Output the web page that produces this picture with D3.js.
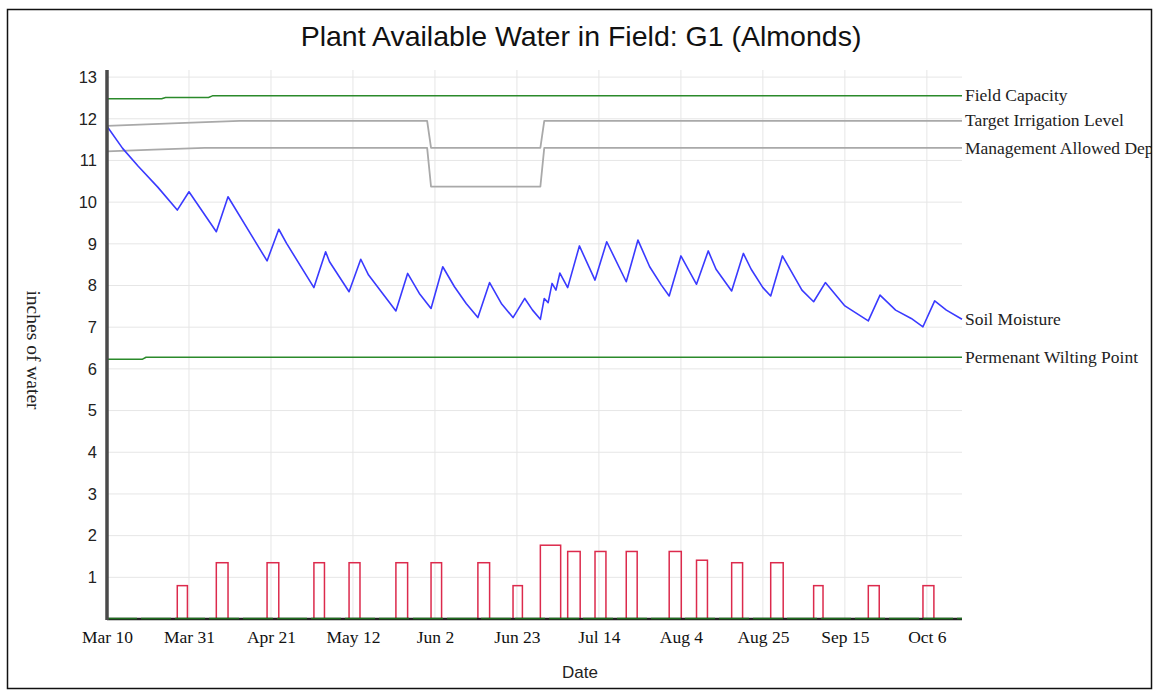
<!DOCTYPE html>
<html>
<head>
<meta charset="utf-8">
<script src="https://cdn.jsdelivr.net/npm/d3@7"></script>
<style>
  body { margin: 0; background: #fff; }
</style>
</head>
<body>
<script>
// year is arbitrary, only month/day are shown
let yr = "2015-";

let tickDates = ["03-10", "03-31", "04-21", "05-12", "06-02", "06-23", "07-14", "08-04", "08-25", "09-15", "10-06"];
let yTicks = [1, 2, 3, 4, 5, 6, 7, 8, 9, 10, 11, 12, 13];
let startDate = "03-10";
let endDate = "10-15";

//soil moisture readings (inches)
let soilDates = ["03-10", "03-14", "03-18", "03-23", "03-28", "03-31", "04-07", "04-10", "04-20", "04-23",
	"04-25", "05-02", "05-05", "05-06", "05-11", "05-14", "05-16", "05-23", "05-26", "05-29",
	"06-01", "06-04", "06-07", "06-10", "06-13", "06-16", "06-19", "06-22", "06-25", "06-27",
	"06-29", "06-30", "07-01", "07-02", "07-03", "07-04", "07-06", "07-09", "07-13", "07-16",
	"07-21", "07-24", "07-27", "07-30", "08-01", "08-04", "08-08", "08-11", "08-13", "08-17",
	"08-20", "08-22", "08-25", "08-27", "08-30", "09-04", "09-07", "09-10", "09-15", "09-18",
	"09-21", "09-24", "09-28", "10-02", "10-05", "10-08", "10-11", "10-15"];
let soilValues = [11.82, 11.29, 10.86, 10.36, 9.81, 10.25, 9.29, 10.13, 8.59, 9.35,
	9.01, 7.95, 8.81, 8.57, 7.85, 8.63, 8.25, 7.39, 8.29, 7.81,
	7.45, 8.45, 7.97, 7.57, 7.23, 8.07, 7.57, 7.23, 7.69, 7.41,
	7.19, 7.69, 7.59, 8.05, 7.89, 8.30, 7.95, 8.95, 8.13, 9.05,
	8.09, 9.09, 8.45, 8.01, 7.75, 8.71, 8.03, 8.83, 8.39, 7.87,
	8.77, 8.39, 7.95, 7.75, 8.71, 7.89, 7.61, 8.07, 7.51, 7.33,
	7.15, 7.77, 7.41, 7.21, 7.01, 7.63, 7.41, 7.19];

let fcDates = ["03-10", "03-24", "03-25", "04-05", "04-06", "10-15"];
let fcValues = [12.48, 12.48, 12.51, 12.51, 12.55, 12.55];

let targetDates = ["03-10", "03-30", "04-13", "05-31", "06-01", "06-29", "06-30", "10-15"];
let targetValues = [11.83, 11.90, 11.95, 11.95, 11.30, 11.30, 11.95, 11.95];

let madDates = ["03-10", "03-22", "04-04", "05-31", "06-01", "06-29", "06-30", "10-15"];
let madValues = [11.22, 11.26, 11.30, 11.30, 10.37, 10.37, 11.30, 11.30];

let pwpDates = ["03-10", "03-19", "03-20", "10-15"];
let pwpValues = [6.23, 6.23, 6.28, 6.28];

//irrigation events: start day, length in days, inches applied
let irrStart = ["03-28", "04-07", "04-20", "05-02", "05-11", "05-23", "06-01", "06-13", "06-22", "06-29",
	"07-06", "07-13", "07-21", "08-01", "08-08", "08-17", "08-27", "09-07", "09-21", "10-05"];
let irrDays = [2.6, 3, 3, 2.7, 2.8, 3, 2.7, 3, 2.4, 5.2,
	3.2, 2.8, 2.8, 3.1, 2.8, 2.8, 3.2, 2.4, 2.8, 2.8];
let irrAmount = [0.8, 1.35, 1.35, 1.35, 1.35, 1.35, 1.35, 1.35, 0.8, 1.77,
	1.62, 1.62, 1.62, 1.62, 1.41, 1.35, 1.35, 0.8, 0.8, 0.8];

let parse = d3.timeParse("%Y-%m-%d");
let dt = s => parse(yr + s);
let DAY = 24 * 3600 * 1000;

let svg = d3.select("body").append("svg")
	.attr("width", 1158)
	.attr("height", 690);

let x = d3.scaleTime()
	.domain([dt(startDate), dt(endDate)])
	.range([107, 962]);

let y = d3.scaleLinear()
	.domain([0, 13.17])
	.range([619, 70]);

let serif = "'Liberation Serif', 'Times New Roman', serif";
let sans = "'Liberation Sans', Arial, sans-serif";

svg.append("defs").append("clipPath").attr("id", "frameClip")
	.append("rect").attr("x", 0).attr("y", 0).attr("width", 1151).attr("height", 690);

//outer frame
svg.append("rect")
	.attr("x", 7.5).attr("y", 9.5)
	.attr("width", 1144).attr("height", 679)
	.attr("fill", "#fff")
	.attr("stroke", "#111")
	.attr("stroke-width", 1.5);

//title
svg.append("text")
	.attr("x", 581).attr("y", 46)
	.attr("text-anchor", "middle")
	.attr("font-family", sans)
	.attr("font-size", 28.5)
	.attr("fill", "#111")
	.text("Plant Available Water in Field: G1 (Almonds)");

//grid
let grid = svg.append("g");
grid.selectAll(".hg").data(yTicks).enter().append("line")
	.attr("x1", x.range()[0]).attr("x2", x.range()[1])
	.attr("y1", d => y(d)).attr("y2", d => y(d))
	.attr("stroke", "#e6e6e6").attr("stroke-width", 1);
grid.selectAll(".vg").data(tickDates.slice(1)).enter().append("line")
	.attr("x1", d => x(dt(d))).attr("x2", d => x(dt(d)))
	.attr("y1", y.range()[1]).attr("y2", y(0))
	.attr("stroke", "#e6e6e6").attr("stroke-width", 1);

//irrigation bars
let bars = irrStart.map((s, i) => ({ start: dt(s), days: irrDays[i], amount: irrAmount[i] }));
svg.append("g").selectAll("rect").data(bars).enter().append("rect")
	.attr("x", d => x(d.start))
	.attr("width", d => x(new Date(+d.start + d.days * DAY)) - x(d.start))
	.attr("y", d => y(d.amount))
	.attr("height", d => y(0) - y(d.amount))
	.attr("fill", "none")
	.attr("stroke", "#dc2a4c")
	.attr("stroke-width", 1.5);

//lines
let line = d3.line().x(d => x(d[0])).y(d => y(d[1]));
let series = [
	{ name: "Field Capacity", dates: fcDates, values: fcValues, color: "#2b8a2b", w: 1.5 },
	{ name: "Target Irrigation Level", dates: targetDates, values: targetValues, color: "#a9a9a9", w: 1.8 },
	{ name: "Management Allowed Depl", dates: madDates, values: madValues, color: "#a9a9a9", w: 1.8 },
	{ name: "Soil Moisture", dates: soilDates, values: soilValues, color: "#3a3aff", w: 1.6 },
	{ name: "Permenant Wilting Point", dates: pwpDates, values: pwpValues, color: "#2b8a2b", w: 1.5 }
];

series.forEach(s => {
	let pts = s.dates.map((d, i) => [dt(d), s.values[i]]);
	svg.append("path")
		.datum(pts)
		.attr("d", line)
		.attr("fill", "none")
		.attr("stroke", s.color)
		.attr("stroke-width", s.w)
		.attr("stroke-linejoin", "round");
});

//series names at the right end of each line
svg.append("g").attr("clip-path", "url(#frameClip)")
	.selectAll("text").data(series).enter().append("text")
	.attr("x", x.range()[1] + 3)
	.attr("y", d => y(d.values[d.values.length - 1]))
	.attr("dy", "0.32em")
	.attr("font-family", serif)
	.attr("font-size", 17.5)
	.attr("fill", "#222")
	.text(d => d.name);

//y axis
let yAxis = d3.axisLeft(y).tickValues(yTicks).tickSize(0).tickPadding(10);
let yG = svg.append("g")
	.attr("transform", `translate(${x.range()[0]},0)`)
	.call(yAxis);
yG.select(".domain").remove();
yG.selectAll("text")
	.attr("font-family", sans)
	.attr("font-size", 16.5)
	.attr("fill", "#222");

//x axis
let xAxis = d3.axisBottom(x)
	.tickValues(tickDates.map(dt))
	.tickSize(0).tickPadding(12)
	.tickFormat(d3.timeFormat("%b %-d"));
let xG = svg.append("g")
	.attr("transform", `translate(0,${y(0)})`)
	.call(xAxis);
xG.select(".domain").remove();
xG.selectAll("text")
	.attr("font-family", serif)
	.attr("font-size", 17.5)
	.attr("fill", "#111");

//baseline: dark axis with green zero series on top
svg.append("line")
	.attr("x1", x.range()[0]).attr("x2", x.range()[1])
	.attr("y1", y(0)).attr("y2", y(0))
	.attr("stroke", "#222").attr("stroke-width", 2.5);
svg.append("line")
	.attr("x1", x.range()[0]).attr("x2", x.range()[1])
	.attr("y1", y(0) - 0.5).attr("y2", y(0) - 0.5)
	.attr("stroke", "#1e6e1e").attr("stroke-width", 1.5)
	.attr("stroke-dasharray", "30,4");

//thick left axis line
svg.append("line")
	.attr("x1", x.range()[0]).attr("x2", x.range()[0])
	.attr("y1", y.range()[1]).attr("y2", y(0) + 1)
	.attr("stroke", "#4a4a4a").attr("stroke-width", 3.5);

//axis titles
svg.append("text")
	.attr("x", 580).attr("y", 678)
	.attr("text-anchor", "middle")
	.attr("font-family", sans)
	.attr("font-size", 17)
	.attr("fill", "#222")
	.text("Date");

svg.append("text")
	.attr("transform", "translate(27,350) rotate(90)")
	.attr("text-anchor", "middle")
	.attr("font-family", serif)
	.attr("font-size", 19.5)
	.attr("fill", "#222")
	.text("inches of water");
</script>
</body>
</html>
